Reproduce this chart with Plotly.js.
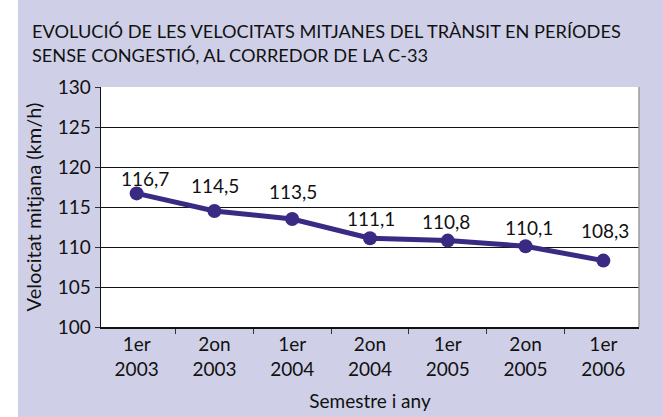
<!DOCTYPE html>
<html>
<head>
<meta charset="utf-8">
<script src="https://cdn.plot.ly/plotly-3.0.1.min.js"></script>
<style>
html,body{margin:0;padding:0;background:#ffffff;}
#chart{position:absolute;left:18px;top:0;width:645px;height:417px;}
</style>
</head>
<body>
<div id="chart"></div>
<script>
const categories = ["1er<br>2003","2on<br>2003","1er<br>2004","2on<br>2004","1er<br>2005","2on<br>2005","1er<br>2006"];
const speeds = [116.7, 114.5, 113.5, 111.1, 110.8, 110.1, 108.3];
const yTicks = [100, 105, 110, 115, 120, 125, 130];

// label placement offsets (pixels) relative to each point
const labelDx = [8, 1, 1, 1, -2, 3, 2];
const labelDy = [15, 26, 28, 20, 19, 19, 30];

const FONT = "Lato, 'Open Sans', sans-serif";
const TXT = "#111";
const LINE = "#3a2a84";

const trace = {
  x: categories,
  y: speeds,
  type: "scatter",
  mode: "lines+markers",
  line: {color: LINE, width: 5},
  marker: {color: LINE, size: 14},
  cliponaxis: false,
  hoverinfo: "skip"
};

const annotations = speeds.map((v, i) => ({
  x: categories[i], y: v, xref: "x", yref: "y",
  text: v.toFixed(1).replace(".", ","),
  showarrow: false,
  xanchor: "center", yanchor: "middle",
  xshift: labelDx[i], yshift: labelDy[i],
  font: {family: FONT, size: 19, color: TXT}
}));

const layout = {
  width: 645, height: 417,
  margin: {l: 83, r: 24, t: 87, b: 90},
  paper_bgcolor: "#cfd0e7",
  plot_bgcolor: "#ffffff",
  showlegend: false,
  font: {family: FONT, size: 19, color: TXT},
  title: {
    text: "EVOLUCIÓ DE LES VELOCITATS MITJANES DEL TRÀNSIT EN PERÍODES<br>SENSE CONGESTIÓ, AL CORREDOR DE LA C-33",
    font: {family: FONT, size: 18.2, color: TXT},
    xref: "container", x: 14/645, xanchor: "left",
    yref: "container", y: 1 - 38/417, yanchor: "top"
  },
  xaxis: {
    type: "category",
    tickson: "boundaries",
    ticks: "outside", ticklen: 5, tickcolor: "#333",
    showline: true, linecolor: "#111", linewidth: 1.5,
    showgrid: false, zeroline: false,
    tickfont: {family: FONT, size: 19, color: TXT},
    title: {text: "Semestre i any", font: {family: FONT, size: 19, color: TXT}, standoff: 15},
    automargin: false,
    fixedrange: true
  },
  yaxis: {
    range: [100, 130],
    tickvals: yTicks,
    ticks: "outside", ticklen: 5, tickcolor: "#333",
    showline: true, linecolor: "#111", linewidth: 1.5,
    showgrid: true, gridcolor: "#111", gridwidth: 1,
    zeroline: false,
    tickfont: {family: FONT, size: 19, color: TXT},
    title: {text: "Velocitat mitjana (km/h)", font: {family: FONT, size: 20, color: TXT}, standoff: 10},
    automargin: false,
    fixedrange: true
  },
  annotations: annotations,
  shapes: [
    {type: "line", xref: "paper", yref: "paper", x0: 1, x1: 1, y0: 0, y1: 1, line: {color: "#9a9a9a", width: 1.5}}
  ]
};

Plotly.newPlot("chart", [trace], layout, {displayModeBar: false, staticPlot: true});
</script>
</body>
</html>
